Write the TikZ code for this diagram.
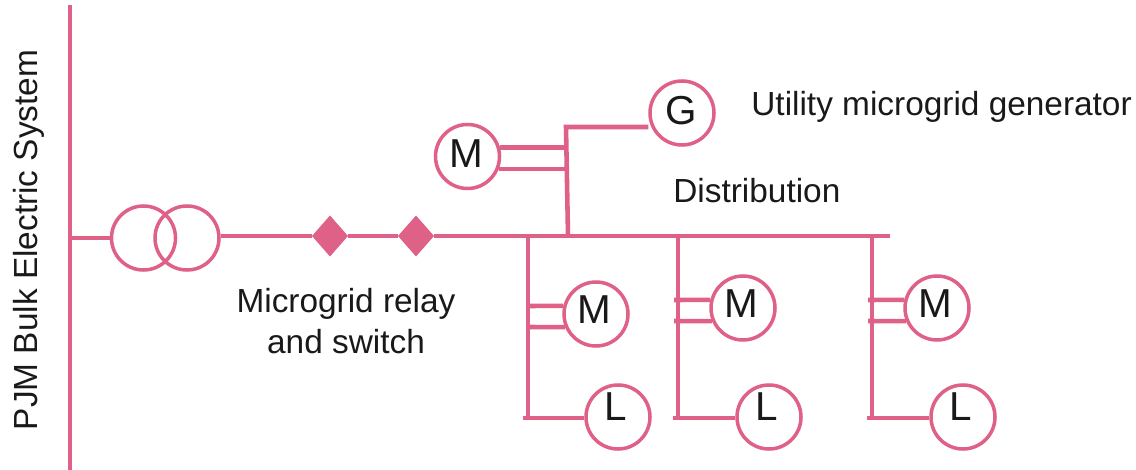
\documentclass[tikz,border=0pt]{standalone}
\usepackage{fontspec}
\setmainfont{Liberation Sans}
\usetikzlibrary{shapes.geometric}
\definecolor{gridpink}{HTML}{DF6187}

\begin{document}
\begin{tikzpicture}[
  x=0.2mm, y=-0.2mm,
  wire/.style = {draw=gridpink, line width=2.6pt},
  unit/.style = {circle, draw=gridpink, line width=2pt, fill=white,
      minimum size=12.8mm, inner sep=0pt},
  relay/.style = {diamond, fill=gridpink, inner sep=0pt, outer sep=0pt, aspect=0.85,
      minimum width=7.2mm, minimum height=8.2mm},
  letter/.style = {font=\fontsize{23}{26}\selectfont, inner sep=0pt, text=black!90},
  caption/.style = {font=\fontsize{19}{23.3}\selectfont, inner sep=0pt, text=black!90}
  ]
  \useasboundingbox (0,0) rectangle (1136,470);
  \coordinate (bustop) at (70,5);
  \coordinate (busbottom) at (70,470);
  \coordinate (busfeed) at (70,238);
  \coordinate (feedend) at (890,236);
  \coordinate (risertop) at (566,127);
  \coordinate (riserfoot) at (568,236);
  \draw[wire] (bustop) -- (busbottom);
  %
  \node[unit] (primary) at (143.5,238) {};
  \node[unit, fill=none] (secondary) at (187,238) {};
  \draw[wire] (busfeed) -- (primary.west);
  \node[relay] (relaya) at (330,236) {};
  \node[relay] (relayb) at (416,236) {};
  \draw[wire] (secondary.east |- feedend) -- (relaya) -- (relayb) -- (feedend);
  %
  \node[unit, label={[letter, xshift=-0.5pt, yshift=1.2pt]center:G}] (gen) at (682,113) {};
  \node[unit, label={[letter, xshift=-0.5pt, yshift=1.8pt]center:M}] (topmotor) at (467.5,156.5) {};
  \draw[wire] (riserfoot) -- (risertop) -- (risertop -| gen.west);
  \draw[wire] (topmotor.15) -- (topmotor.15 -| risertop);
  \draw[wire] (topmotor.-22) -- (topmotor.-22 -| risertop);
  %
  \foreach \i/\bx/\over/\mx/\my/\lx in {a/528/0/596/314/618, b/678/4/743/308/769, c/872/4/937/308/963}
  {
    \coordinate (tap\i) at (\bx,236);
    \coordinate (foot\i) at (\bx,418);
    \coordinate (stub\i) at (\bx-5,418);
    \node[unit, label={[letter, xshift=-1.2pt, yshift=2.4pt]center:M}] (motor\i) at (\mx,\my) {};
    \node[unit, label={[letter, xshift=-1.2pt, yshift=6pt]center:L}] (load\i) at (\lx,417) {};
    \draw[wire] (tap\i) -- (foot\i);
    \draw[wire] (stub\i) -- (load\i.west |- stub\i);
    \coordinate (upper\i) at (\bx-\over,\my-8);
    \coordinate (lower\i) at (\bx-\over,\my+13);
    \draw[wire] (upper\i) -- (motor\i.166);
    \draw[wire] (lower\i) -- (motor\i.203);
  }
  %
  \node[caption, rotate=90] (system) at (29,240) {PJM Bulk Electric System};
  \node[caption, anchor=west] (utility) at (751,107) {Utility microgrid generator};
  \node[caption, anchor=west] (distribution) at (673,191) {Distribution};
  \node[caption, align=center] (switch) at (346,321) {Microgrid relay\\and switch};
\end{tikzpicture}
\end{document}
